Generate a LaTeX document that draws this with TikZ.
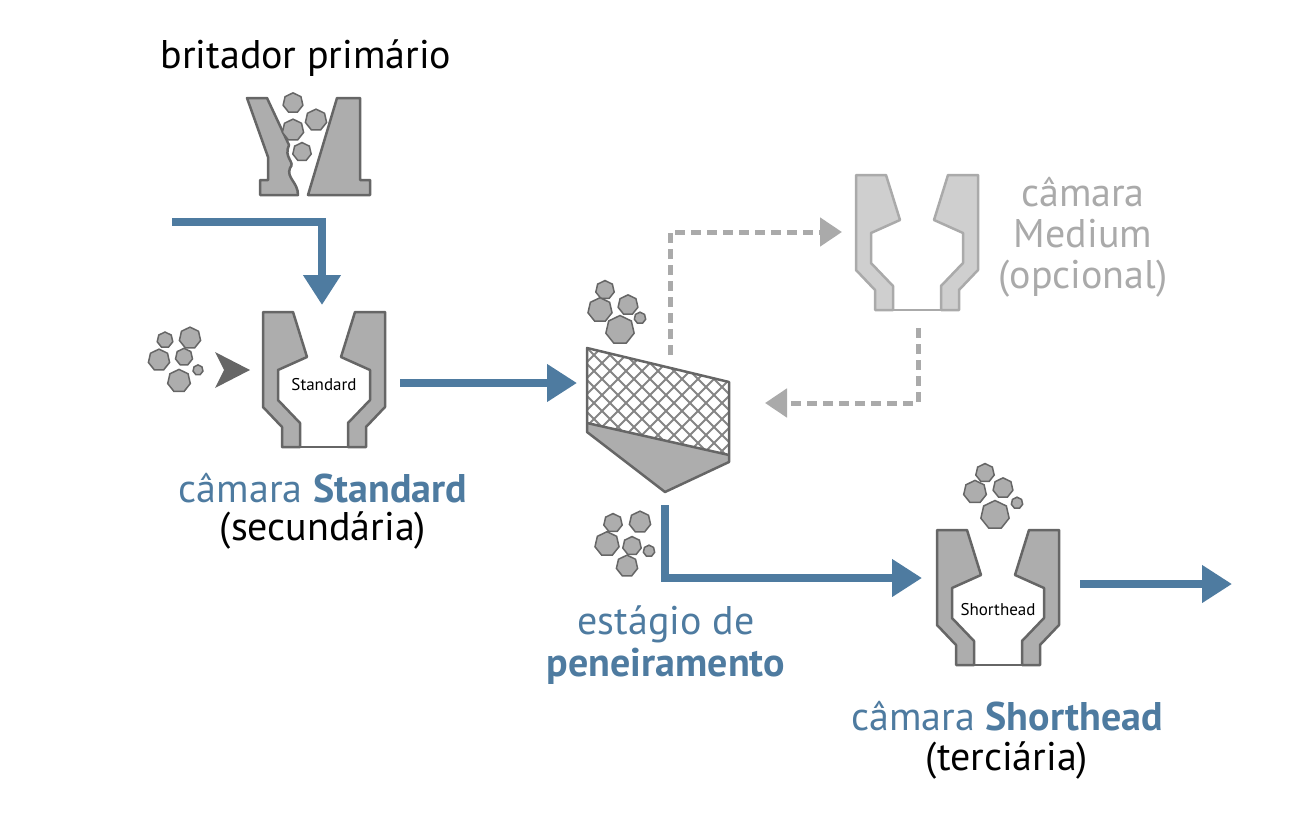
\documentclass[tikz,border=0pt]{standalone}
\usepackage{fontspec}
\setmainfont{PT Sans}
\usetikzlibrary{shapes.geometric,arrows.meta}
\definecolor{bl}{HTML}{4E7BA0}
\definecolor{dg}{HTML}{666666}
\definecolor{mg}{HTML}{ADADAD}
\definecolor{lg}{HTML}{CFCFCF}
\definecolor{lgl}{HTML}{AAAAAA}
\tikzset{
 flow/.style={bl,line width=8pt,-{Triangle[length=30pt,width=36pt]}},
 dflow/.style={lgl,line width=5pt,dash pattern=on 10pt off 6pt,-{Triangle[length=22pt,width=28pt]}},
 rock/.style={regular polygon,regular polygon sides=7,draw=dg,fill=mg,line width=1.5pt,inner sep=0pt,scale=1.45},
 part/.style={draw=dg,fill=mg,line width=2.5pt,line join=round},
 lpart/.style={draw=lgl,fill=lg,line width=2.5pt,line join=round},
 lab/.style={font=\fontsize{40}{44}\selectfont,inner sep=0pt},
 pics/chamber/.style={code={
  \path[#1] (-31,0)--(-61,0)--(-61,95)--(-42,115)--(-42,135)--(-24,135)--(-24,111)--(-46,88)--(-46,58)--(-17,45)--cycle;
  \path[#1] (31,0)--(61,0)--(61,95)--(42,115)--(42,135)--(24,135)--(24,111)--(46,88)--(46,58)--(17,45)--cycle;
  \path[#1] (-24,135)--(24,135);
 }}
}
\begin{document}
\begin{tikzpicture}[x=1pt,y=-1pt]
\useasboundingbox (0,0) rectangle (1312,816);
% primary crusher
\path[part] (247,98)--(267,98)--(289,145) .. controls (283,158) and (296,162) .. (290,168) .. controls (286,178) and (298,182) .. (298,195)--(260,195)--(260,180)--(268,180)--(268,157)--cycle;
\path[part] (337,98)--(360,98)--(360,180)--(370,180)--(370,195)--(308,195)--cycle;
\node[rock,minimum size=14pt] (r1) at (293,103) {};
\node[rock,minimum size=15pt] (r2) at (316,120) {};
\node[rock,minimum size=15pt] (r3) at (293,130) {};
\node[rock,minimum size=13pt] (r4) at (302,152) {};
\node[lab] (t1) at (306,58) {britador primário};
% standard chamber
\pic at (324,312) {chamber=part};
\node[font=\fontsize{17}{18}\selectfont] (s1) at (324,385) {Standard};
\node[rock,minimum size=11pt] at (165,340) {};
\node[rock,minimum size=15pt] at (190,338) {};
\node[rock,minimum size=15pt] at (159,360) {};
\node[rock,minimum size=12pt] at (184,357) {};
\node[rock,minimum size=7pt] at (198,370) {};
\node[rock,minimum size=16pt] at (179,381) {};
\fill[dg] (215,352)--(250,370)--(215,388)--(224,370)--cycle;
\node[lab,text=bl] (t2) at (323,488) {câmara \textbf{Standard}};
\node[lab] (t3) at (323,530) {(secundária)};
% screen
\begin{scope}
\clip (587,348)--(729,382)--(729,455)--(587,423)--cycle;
\foreach \i in {-200,-184,...,200}{
 \draw[dg!80,line width=2pt] (587+\i,340)--(587+\i+140,480);
 \draw[dg!80,line width=2pt] (729+\i,340)--(729+\i-140,480);
}
\end{scope}
\path[fill=mg] (587,423)--(729,455)--(729,462)--(665,492)--(587,432)--cycle;
\draw[dg,line width=2.5pt,line join=round] (587,348)--(729,382)--(729,462)--(665,492)--(587,432)--cycle;
\draw[dg,line width=2.5pt] (587,423)--(729,455);
\node[rock,minimum size=13pt] at (605,290) {};
\node[rock,minimum size=17pt] at (600,310) {};
\node[rock,minimum size=14pt] at (628,305) {};
\node[rock,minimum size=8pt] at (640,318) {};
\node[rock,minimum size=20pt] at (620,330) {};
\node[lab,text=bl] (t4) at (666,624) {estágio de};
\node[lab,text=bl] (t5) at (666,666) {\textbf{peneiramento}};
\node[rock,minimum size=13pt] at (613,523) {};
\node[rock,minimum size=15pt] at (640,522) {};
\node[rock,minimum size=17pt] at (607,544) {};
\node[rock,minimum size=13pt] at (632,546) {};
\node[rock,minimum size=8pt] at (649,551) {};
\node[rock,minimum size=15pt] at (627,566) {};
% medium chamber
\begin{scope}[shift={(917,175)},xscale=0.98,yscale=1.0]
\pic at (0,0) {chamber=lpart};
\end{scope}
\node[lab,text=lgl,align=center,font=\fontsize{40}{41}\selectfont] (t6) at (1083,237) {câmara\\Medium\\(opcional)};
% shorthead chamber
\begin{scope}[shift={(998,530)},scale=1.08]
\pic at (0,0) {chamber=part};
\end{scope}
\node[font=\fontsize{17}{18}\selectfont] (s2) at (998,610) {Shorthead};
\node[rock,minimum size=13pt] at (985,473) {};
\node[rock,minimum size=16pt] at (975,492) {};
\node[rock,minimum size=14pt] at (1003,488) {};
\node[rock,minimum size=8pt] at (1017,503) {};
\node[rock,minimum size=20pt] at (995,515) {};
\node[lab,text=bl] (t7) at (1007,716) {câmara \textbf{Shorthead}};
\node[lab] (t8) at (1007,760) {(terciária)};
% flows
\coordinate (a0) at (172,222);
\coordinate (a1) at (322,305);
\draw[flow] (a0)-|(a1);
\coordinate (b0) at (400,383);\coordinate (b1) at (577,383);
\draw[flow] (b0)--(b1);
\coordinate (c0) at (665,505);\coordinate (c1) at (922,578);
\draw[flow] (c0)|-(c1);
\coordinate (d0) at (1080,584);\coordinate (d1) at (1232,584);
\draw[flow] (d0)--(d1);
\coordinate (e0) at (670,355);\coordinate (e1) at (842,232);
\draw[dflow] (e0)|-(e1);
\coordinate (f0) at (918,328);\coordinate (f1) at (765,403);
\draw[dflow] (f0)|-(f1);
\end{tikzpicture}
\end{document}
